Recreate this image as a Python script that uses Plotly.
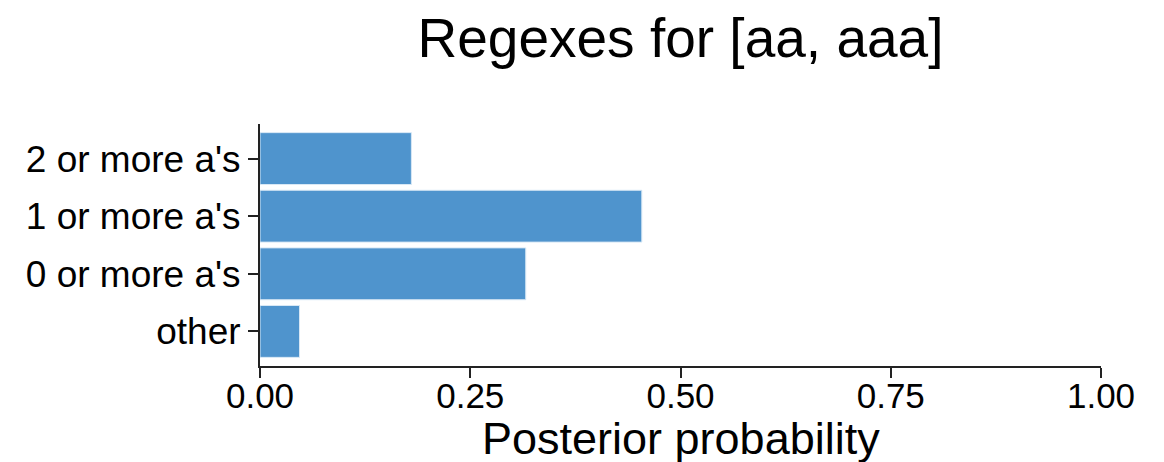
import plotly.graph_objects as go

categories = ["other", "0 or more a's", "1 or more a's", "2 or more a's"]
probabilities = [0.047, 0.316, 0.454, 0.180]
x_tick_values = [0.0, 0.25, 0.5, 0.75, 1.0]
x_tick_labels = ["0.00", "0.25", "0.50", "0.75", "1.00"]
x_axis_title = "Posterior probability"

FONT = "Liberation Sans, Arial, Helvetica, sans-serif"

# the page body adds an 8px offset; margins compensate for it
fig = go.Figure(
    go.Bar(
        x=probabilities,
        y=categories,
        orientation="h",
        marker=dict(color="#4F94CD", line=dict(color="#d8e8f5", width=1)),
        showlegend=False,
    )
)

fig.update_layout(
    width=1164,
    height=462,
    margin=dict(l=252, r=71, t=116, b=104),
    paper_bgcolor="white",
    plot_bgcolor="white",
    bargap=0.1,
    font=dict(family=FONT, color="black"),
    title=dict(
        text="Regexes for [aa, aaa]",
        font=dict(size=55, family=FONT, color="black"),
        x=0.5,
        xref="paper",
        xanchor="center",
        y=1 - 30 / 462,
        yref="container",
        yanchor="middle",
    ),
    annotations=[
        dict(
            text=x_axis_title,
            x=0.5,
            xref="paper",
            y=0,
            yref="paper",
            xanchor="center",
            yanchor="top",
            yshift=-45,
            showarrow=False,
            font=dict(size=45, family=FONT, color="black"),
        )
    ],
)

fig.update_xaxes(
    range=[0, 1],
    tickvals=x_tick_values,
    ticktext=x_tick_labels,
    showgrid=False,
    zeroline=False,
    showline=True,
    linecolor="#222222",
    linewidth=2,
    ticks="outside",
    ticklen=10,
    tickwidth=2,
    tickcolor="#222222",
    tickfont=dict(size=35, family=FONT, color="black"),
    ticklabelstandoff=-12,
    automargin=False,
)

fig.update_yaxes(
    range=[-0.6, 3.6],
    showgrid=False,
    zeroline=False,
    showline=True,
    linecolor="#222222",
    linewidth=2,
    ticks="outside",
    ticklen=10,
    tickwidth=2,
    tickcolor="#222222",
    tickfont=dict(size=37, family=FONT, color="black"),
    automargin=False,
)

fig.write_html("out.html")
